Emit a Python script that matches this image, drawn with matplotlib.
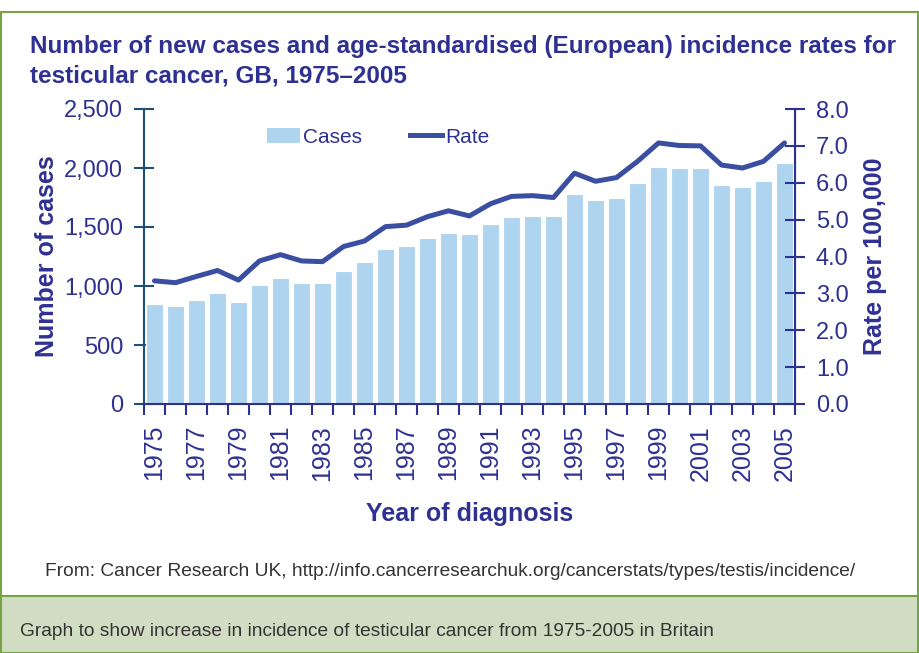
import numpy as np
import matplotlib.pyplot as plt
from matplotlib.patches import Rectangle, Patch
from matplotlib.lines import Line2D

# data
years = list(range(1975, 2006))
cases = [847, 833, 881, 941, 864, 1008, 1065, 1025, 1022, 1130, 1203,
         1313, 1339, 1409, 1452, 1441, 1525, 1587, 1596, 1590, 1782,
         1726, 1746, 1875, 2011, 1997, 2000, 1856, 1836, 1887, 2045]
rate = [3.34, 3.29, 3.46, 3.62, 3.36, 3.88, 4.05, 3.88, 3.86, 4.27, 4.42,
        4.81, 4.85, 5.08, 5.24, 5.10, 5.43, 5.63, 5.65, 5.60, 6.26,
        6.04, 6.14, 6.58, 7.08, 7.01, 7.00, 6.48, 6.40, 6.58, 7.08]
cases_ticks = [0, 500, 1000, 1500, 2000, 2500]
rate_ticks = [0, 1, 2, 3, 4, 5, 6, 7, 8]

navy = '#2e3192'
bar_col = '#afd4f0'
line_col = '#3a4ea2'
green = '#77a346'

plt.rcParams['font.family'] = ['Liberation Sans', 'DejaVu Sans']

fig = plt.figure(figsize=(9.2, 6.53), dpi=100)
W, H = 920, 653

def fx(px):
    return px / W

def fy(py):
    return 1 - py / H

# frame and caption band
fig.patches.append(Rectangle((fx(1), 0), fx(917), fy(12), transform=fig.transFigure,
                             fill=False, edgecolor=green, lw=1.5))
fig.patches.append(Rectangle((fx(1), 0), fx(917), fy(596), transform=fig.transFigure,
                             facecolor='#d1ddc2', edgecolor=green, lw=1.5))

ax = fig.add_axes([fx(144), fy(404), fx(795 - 144), (404 - 109) / H])
ax2 = ax.twinx()

ax.bar(years, cases, width=0.78, color=bar_col, edgecolor='white', linewidth=0.8, zorder=2)
ax2.plot(years, rate, color=line_col, lw=3.6, solid_capstyle='round', zorder=3)

ax.set_xlim(1974.5, 2005.5)
ax.set_ylim(0, 2500)
ax2.set_ylim(0, 8)
ax.set_yticks(cases_ticks)
ax.set_yticklabels([f'{v:,}' for v in cases_ticks])
ax2.set_yticks(rate_ticks)
ax2.set_yticklabels([f'{v:.1f}' for v in rate_ticks])

ax.set_xticks(years[::2])
ax.set_xticklabels([str(y) for y in years[::2]], rotation=90)
ax.set_xticks([y - 0.5 for y in years] + [2005.5], minor=True)
ax.tick_params(axis='x', which='major', length=0, labelsize=18, labelcolor=navy, pad=15)
ax.tick_params(axis='x', which='minor', length=8, width=1.5, direction='out', color=navy)
ax.tick_params(axis='y', length=14, width=1.5, direction='inout', color='#1f4e79',
               labelsize=17, labelcolor=navy, pad=8)
ax2.tick_params(axis='y', length=14, width=1.5, direction='inout', color=navy,
                labelsize=17, labelcolor=navy, pad=8)

for a in (ax, ax2):
    a.spines['top'].set_visible(False)
ax.spines['left'].set_color('#1f4e79')
ax.spines['left'].set_linewidth(1.5)
ax.spines['bottom'].set_color(navy)
ax.spines['bottom'].set_linewidth(1.5)
ax2.spines['right'].set_color(navy)
ax2.spines['right'].set_linewidth(1.5)
ax2.spines['left'].set_visible(False)
ax2.spines['bottom'].set_visible(False)

ax.set_ylabel('Number of cases', fontsize=18, fontweight='bold', color=navy, labelpad=4)
ax2.set_ylabel('Rate per 100,000', fontsize=18, fontweight='bold', color=navy, labelpad=10)
ax.set_xlabel('Year of diagnosis', fontsize=18, fontweight='bold', color=navy, labelpad=15)

handles = [Patch(facecolor=bar_col, edgecolor='none'),
           Line2D([], [], color=line_col, lw=3.6)]
leg = ax2.legend(handles, ['Cases', 'Rate'], ncol=2, frameon=False, loc='center',
                 bbox_to_anchor=(0.36, 0.905), fontsize=15, handlelength=1.55,
                 handletextpad=0.15, columnspacing=2.3)
for t in leg.get_texts():
    t.set_color(navy)

fig.text(fx(30), fy(35), 'Number of new cases and age-standardised (European) incidence rates for\n'
         'testicular cancer, GB, 1975\u20132005', fontsize=17.5, fontweight='bold',
         color=navy, va='top', ha='left', linespacing=1.35)
fig.text(fx(45), fy(572), 'From: Cancer Research UK, http://info.cancerresearchuk.org/cancerstats/types/testis/incidence/',
         fontsize=13.8, color='#333333', va='center', ha='left')
fig.text(fx(20), fy(632), 'Graph to show increase in incidence of testicular cancer from 1975-2005 in Britain',
         fontsize=13.8, color='#333333', va='center', ha='left')

fig.savefig('out.png', dpi=100)
